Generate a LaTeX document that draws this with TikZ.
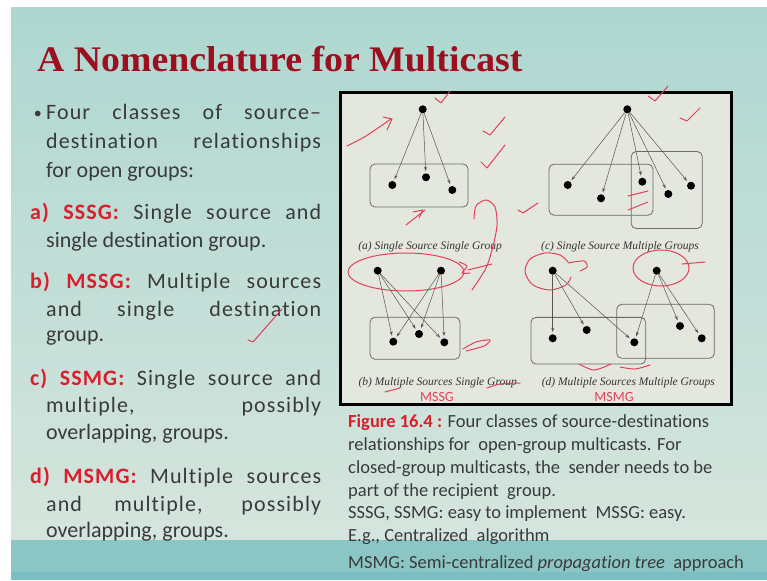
\documentclass[tikz,border=0pt]{standalone}
\usepackage{fontspec}
\setmainfont{Liberation Serif}
\newfontfamily\slidefont[Ligatures=NoCommon]{Carlito}
\newfontfamily\slidewide[Ligatures=NoCommon,LetterSpace=5]{Carlito}
\usetikzlibrary{arrows.meta}

\definecolor{titlered}{HTML}{9C0F1E}
\definecolor{labelred}{HTML}{D91E2D}
\definecolor{bodygrey}{HTML}{3A3A3A}
\definecolor{slidetop}{HTML}{AED7D0}
\definecolor{slidebot}{HTML}{D5E5DD}
\definecolor{band}{HTML}{8BC6C5}
\definecolor{bandlow}{HTML}{7CBFC3}
\definecolor{figfill}{HTML}{E4E7DD}
\definecolor{edgegrey}{HTML}{555555}
\definecolor{boxgrey}{HTML}{6A6A6A}
\definecolor{ink}{HTML}{E2405A}

\tikzset{
  body/.style={anchor=base west, inner sep=0pt, text=bodygrey,
    font=\slidefont\fontsize{22}{29}\selectfont},
  bodywide/.style={anchor=base west, inner sep=0pt, text=bodygrey,
    font=\slidewide\fontsize{22}{29}\selectfont},
  capline/.style={anchor=base west, inner sep=0pt, text=bodygrey,
    font=\slidefont\fontsize{18.5}{23}\selectfont},
  dot/.style={circle, fill=black, inner sep=0pt, minimum size=8pt},
  edge/.style={draw=edgegrey, line width=0.5pt,
    -{Stealth[length=4.5pt,width=3pt]}, shorten >=2pt},
  grp/.style={draw=boxgrey, line width=0.8pt, rounded corners=5pt,
    inner sep=0pt},
  subcap/.style={inner sep=0pt, text=black!80,
    font=\itshape\fontsize{11.5}{13}\selectfont},
  pen/.style={draw=ink, line width=1pt, line cap=round, line join=round},
}
\newcommand{\lbl}[1]{\textbf{\color{labelred}#1}}

\begin{document}
\begin{tikzpicture}[x=1pt,y=-1pt]
\useasboundingbox (0,0) rectangle (767,580);
% slide background
\fill[white] (0,0) rectangle (767,580);
\shade[top color=slidetop, bottom color=slidebot] (11,8) rectangle (767,540);
\fill[band] (11,540) rectangle (767,572);
\fill[bandlow] (11,572) rectangle (767,580);

% title
\node[anchor=base west, inner sep=0pt, text=titlered,
  font=\bfseries\fontsize{36}{40}\selectfont] (title) at (37,72)
  {\scalebox{1.05}[1]{A Nomenclature for Multicast}};

% left column: justified lines are letter-spaced, last lines are not
\node[anchor=base east, inner sep=0pt, text=bodygrey,
  font=\slidefont\fontsize{16}{20}\selectfont] (bul) at (42,119) {•};
\node[bodywide] (l1) at (46,120) {\makebox[275pt][s]{Four classes of source–}};
\node[bodywide] (l2) at (46,149) {\makebox[275pt][s]{destination relationships}};
\node[body] (l3) at (46,177) {for open groups:};
\node[bodywide] (l4) at (30,219) {\makebox[291pt][s]{\lbl{a) SSSG:} Single source and}};
\node[body] (l5) at (46,247) {single destination group.};
\node[bodywide] (l6) at (30,288) {\makebox[291pt][s]{\lbl{b) MSSG:} Multiple sources}};
\node[bodywide] (l7) at (46,316) {\makebox[275pt][s]{and single destination}};
\node[body] (l8) at (46,341) {group.};
\node[bodywide] (l9) at (30,385) {\makebox[291pt][s]{\lbl{c) SSMG:} Single source and}};
\node[bodywide] (l10) at (46,412) {\makebox[275pt][s]{multiple, possibly}};
\node[body] (l11) at (46,439) {overlapping, groups.};
\node[bodywide] (l12) at (30,483) {\makebox[291pt][s]{\lbl{d) MSMG:} Multiple sources}};
\node[bodywide] (l13) at (46,511) {\makebox[275pt][s]{and multiple, possibly}};
\node[body] (l14) at (46,537) {overlapping, groups.};

% figure frame
\draw[line width=3pt, fill=figfill] (340,93) rectangle (731,404);

% (a) single source, single group
\node[grp, minimum width=98pt, minimum height=43pt] (ga) at (419,185.5) {};
\node[dot] (as) at (422.7,109.3) {};
\node[dot] (a1) at (392.3,185) {};
\node[dot] (a2) at (426,177.3) {};
\node[dot] (a3) at (452.3,190) {};
\foreach \t in {a1,a2,a3} \draw[edge] (as) -- (\t);
\node[subcap] (capa) at (430,246.5) {(a) Single Source Single Group};

% (c) single source, multiple groups
\node[grp, minimum width=104pt, minimum height=51pt] (gc1) at (601,189.7) {};
\node[grp, minimum width=71pt, minimum height=77pt] (gc2) at (666.7,190) {};
\node[dot] (cs) at (627.3,109.3) {};
\node[dot] (c1) at (567.7,185) {};
\node[dot] (c2) at (601,198.3) {};
\node[dot] (c3) at (642.3,181.7) {};
\node[dot] (c4) at (668.3,194) {};
\node[dot] (c5) at (691,185.7) {};
\foreach \t in {c1,c2,c3,c4,c5} \draw[edge] (cs) -- (\t);
\node[subcap] (capc) at (620,246.5) {(c) Single Source Multiple Groups};

% (b) multiple sources, single group
\node[grp, minimum width=90pt, minimum height=42pt] (gb) at (415,338.2) {};
\node[dot] (bs1) at (377.7,270.7) {};
\node[dot] (bs2) at (441,270.7) {};
\node[dot] (b1) at (393.3,341.7) {};
\node[dot] (b2) at (419,334) {};
\node[dot] (b3) at (444.3,342.3) {};
\foreach \s in {bs1,bs2} \foreach \t in {b1,b2,b3} \draw[edge] (\s) -- (\t);
\node[subcap] (capb) at (437.7,382.7) {(b) Multiple Sources Single Group};

% (d) multiple sources, multiple groups
\node[grp, minimum width=114.7pt, minimum height=46.7pt] (gd1) at (588.3,340.7) {};
\node[grp, minimum width=97.6pt, minimum height=54pt] (gd2) at (665.5,331.3) {};
\node[dot] (ds1) at (552.7,270.7) {};
\node[dot] (ds2) at (656.7,270.7) {};
\node[dot] (d1) at (552.7,338.3) {};
\node[dot] (d2) at (586.7,330) {};
\node[dot] (d3) at (634.3,342.3) {};
\node[dot] (d4) at (680,326) {};
\node[dot] (d5) at (701.7,338.3) {};
\foreach \t in {d1,d2,d3} \draw[edge] (ds1) -- (\t);
\foreach \t in {d3,d4,d5} \draw[edge] (ds2) -- (\t);
\node[subcap] (capd) at (628.3,382.7) {(d) Multiple Sources Multiple Groups};

% caption under the figure
\node[capline] (f1) at (348,427.3) {\lbl{Figure 16.4 :} Four classes of source-destinations};
\node[capline] (f2) at (348,450) {relationships for\ \ open-group multicasts. For};
\node[capline] (f3) at (348,473.3) {closed-group multicasts, the\ \ sender needs to be};
\node[capline] (f4) at (348,496.7) {part of the recipient\ \ group.};
\node[capline] (f5) at (348,518.3) {SSSG, SSMG: easy to implement\ \ MSSG: easy.};
\node[capline] (f6) at (348,541.7) {E.g., Centralized\ \ algorithm};
\node[capline] (f7) at (348,568.3) {MSMG: Semi-centralized \textit{propagation tree}\ \ approach};

% pen marks made over the slide
\draw[pen] plot[smooth] coordinates {(347,146) (366,136) (391,119)};
\draw[pen] (383,117) -- (392,119) -- (387,130);
\draw[pen] (435,98) -- (441,103) -- (450,91);
\draw[pen] (483,131) -- (490,135) -- (505,117);
\draw[pen] (481,162) -- (487,168) -- (505,145);
\draw[pen] (518,210) -- (523,213) -- (538,203);
\draw[pen] (648,96) -- (655,101) -- (668,86);
\draw[pen] (680,118) -- (687,121) -- (700,108);
\draw[pen] (628,196) -- (648,191);
\draw[pen] (628,210) -- (648,202);
\draw[pen] (406,225) -- (425,210);
\draw[pen] (413,212) -- (423,210) -- (419,218);
\draw[pen] plot[smooth] coordinates {(474,219) (476,206) (486,200) (495,207) (497,225) (493,246) (486,268) (472,290)};
\draw[pen] (406,272) ellipse[x radius=58, y radius=19];
\draw[pen] plot[smooth] coordinates {(459,262) (467,266) (462,273) (470,273)};
\draw[pen] (468,270) -- (492,264);
\draw[pen] plot[smooth] coordinates {(568,262) (560,255) (545,253) (530,259) (525,272) (533,285) (550,290) (566,285) (571,277)};
\draw[pen] plot[smooth] coordinates {(568,263) (584,261) (587,267) (580,271)};
\draw[pen] (661,268) ellipse[x radius=28, y radius=18];
\draw[pen] (682,264) -- (705,262);
\draw[pen] plot[smooth] coordinates {(463,349) (476,342) (490,340) (484,346) (466,351)};
\draw[pen] plot[smooth] coordinates {(579,364) (594,370) (611,364)};
\draw[pen] plot[smooth] coordinates {(620,367) (635,369) (650,365)};
\draw[pen] (385,392) -- (400,388);
\draw[pen] plot[smooth] coordinates {(487,388) (500,384) (520,383)};
\draw[pen] (248,340) -- (253,342) -- (282,309);
\node[text=ink, inner sep=0pt, font=\slidefont\fontsize{14}{14}\selectfont] (hw1) at (437,397) {MSSG};
\node[text=ink, inner sep=0pt, font=\slidefont\fontsize{14}{14}\selectfont] (hw2) at (614,397) {MSMG};
\end{tikzpicture}
\end{document}
